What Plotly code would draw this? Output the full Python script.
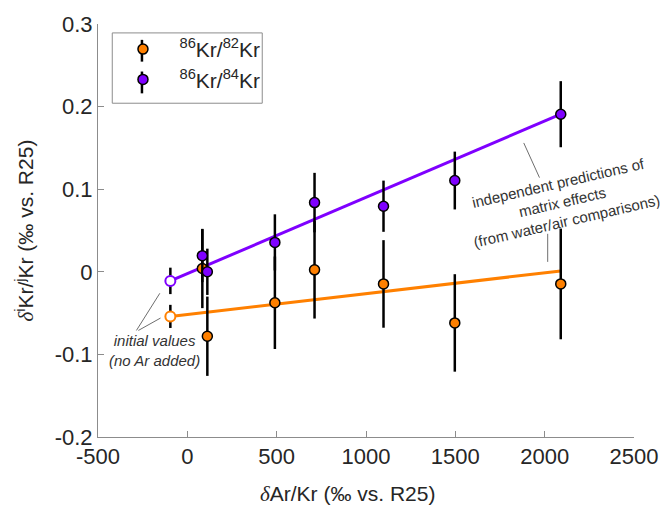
import plotly.graph_objects as go

# Ar/Kr enrichment of each sample (per mil vs. R25)
ar_kr = [84, 112, 490, 712, 1098, 1497, 2090]

# 86Kr/82Kr and 86Kr/84Kr deltas with 1-sigma uncertainties
kr86_82 = [0.004, -0.078, -0.0375, 0.0024, -0.0147, -0.0619, -0.0147]
kr86_82_err = [0.048, 0.048, 0.056, 0.059, 0.053, 0.059, 0.067]
kr86_84 = [0.0195, 0.000, 0.0356, 0.0838, 0.0794, 0.1105, 0.1908]
kr86_84_err = [0.032, 0.028, 0.034, 0.036, 0.031, 0.035, 0.040]

# initial values (no Ar added)
init_ar_kr = [-95]
init_86_82 = [-0.054]
init_86_82_err = [0.014]
init_86_84 = [-0.011]
init_86_84_err = [0.016]

# predicted matrix-effect lines (start, end)
pred_ar_kr = [-95, 2090]
pred_86_82 = [-0.054, 0.001]
pred_86_84 = [-0.011, 0.1908]

ORANGE = "#FF8000"
PURPLE = "#7F00FF"
FONT = "Liberation Sans, Arial, sans-serif"
TEXT = "#262626"
AXIS = "#8C8C8C"

fig = go.Figure()

# prediction lines
fig.add_trace(go.Scatter(x=pred_ar_kr, y=pred_86_82, mode="lines",
                         line=dict(color=ORANGE, width=3), showlegend=False))
fig.add_trace(go.Scatter(x=pred_ar_kr, y=pred_86_84, mode="lines",
                         line=dict(color=PURPLE, width=3), showlegend=False))

# initial values: open circles
fig.add_trace(go.Scatter(
    x=init_ar_kr, y=init_86_82, mode="markers", showlegend=False,
    error_y=dict(type="data", array=init_86_82_err, color="black", thickness=2.5, width=0),
    marker=dict(size=10, color="white", line=dict(color=ORANGE, width=2))))
fig.add_trace(go.Scatter(
    x=init_ar_kr, y=init_86_84, mode="markers", showlegend=False,
    error_y=dict(type="data", array=init_86_84_err, color="black", thickness=2.5, width=0),
    marker=dict(size=10, color="white", line=dict(color=PURPLE, width=2))))

# measured samples
fig.add_trace(go.Scatter(
    x=ar_kr, y=kr86_82, mode="markers", name="<sup>86</sup>Kr/<sup>82</sup>Kr",
    error_y=dict(type="data", array=kr86_82_err, color="black", thickness=2.5, width=0),
    marker=dict(size=10, color=ORANGE, line=dict(color="black", width=1.5))))
fig.add_trace(go.Scatter(
    x=ar_kr, y=kr86_84, mode="markers", name="<sup>86</sup>Kr/<sup>84</sup>Kr",
    error_y=dict(type="data", array=kr86_84_err, color="black", thickness=2.5, width=0),
    marker=dict(size=10, color=PURPLE, line=dict(color="black", width=1.5))))

# leader lines for the annotations
leader = dict(color="#6E6E6E", width=1)
fig.add_shape(type="line", x0=-154, y0=-0.026, x1=-285, y1=-0.071, line=leader)
fig.add_shape(type="line", x0=-150, y0=-0.056, x1=-274, y1=-0.071, line=leader)
fig.add_shape(type="line", x0=1883, y0=0.156, x1=1971, y1=0.114, line=leader)
fig.add_shape(type="line", x0=2017, y0=0.046, x1=2017, y1=0.012, line=leader)

# legend frame and error-bar strokes behind the legend symbols
fig.add_shape(type="rect", xref="paper", yref="paper",
              x0=(112.5 - 98) / 545, x1=(265 - 98) / 545,
              y0=1 - (100 - 20) / 417, y1=1 - (29 - 20) / 417,
              line=dict(color="#8C8C8C", width=1), fillcolor="rgba(0,0,0,0)")
legend_bar = dict(color="black", width=2.5)
fig.add_shape(type="line", xref="paper", yref="paper", x0=0.082, x1=0.082,
              y0=0.9616, y1=0.9089, line=legend_bar)
fig.add_shape(type="line", xref="paper", yref="paper", x0=0.082, x1=0.082,
              y0=0.8849, y1=0.8321, line=legend_bar)

fig.add_annotation(
    x=-186, y=-0.095, xref="x", yref="y", showarrow=False,
    text="<i>initial values<br>(no Ar added)</i>",
    font=dict(family=FONT, size=15, color="#333333"), align="center")
fig.add_annotation(
    x=2097, y=0.084, xref="x", yref="y", showarrow=False, textangle=-13,
    text="independent predictions of<br>matrix effects<br>(from water/air comparisons)",
    font=dict(family=FONT, size=15, color="#333333"), align="center")

# axis titles
fig.add_annotation(
    x=(352 - 98) / 545, y=-0.139, xref="paper", yref="paper", showarrow=False,
    xanchor="center", yanchor="middle",
    text="<span style=\"font-family:'Liberation Serif'\"><i>δ</i></span>Ar/Kr (‰ vs. R25)",
    font=dict(family=FONT, size=21, color=TEXT))
fig.add_annotation(
    x=-0.136, y=0.5, xref="paper", yref="paper", showarrow=False, textangle=-90,
    xanchor="center", yanchor="middle",
    text="<span style=\"font-family:'Liberation Serif'\"><i>δ</i></span><sup>i</sup>Kr/<sup>j</sup>Kr (‰ vs. R25)",
    font=dict(family=FONT, size=21, color=TEXT))

x_ticks = [-500, 0, 500, 1000, 1500, 2000, 2500]
y_ticks = [-0.2, -0.1, 0, 0.1, 0.2, 0.3]

fig.update_xaxes(
    range=[-500, 2500], tickvals=x_ticks, ticktext=[str(v) for v in x_ticks],
    showgrid=False, zeroline=False, showline=True, linecolor=AXIS, linewidth=1,
    ticks="inside", ticklen=6, tickcolor=AXIS, mirror=False,
    tickfont=dict(family=FONT, size=22, color=TEXT))
fig.update_yaxes(
    range=[-0.2, 0.3], tickvals=y_ticks, ticktext=["-0.2", "-0.1", "0", "0.1", "0.2", "0.3"],
    showgrid=False, zeroline=False, showline=True, linecolor=AXIS, linewidth=1,
    ticks="inside", ticklen=6, tickcolor=AXIS, mirror=False,
    tickfont=dict(family=FONT, size=22, color=TEXT))

fig.update_layout(
    width=670, height=506,
    margin=dict(l=98, r=27, t=20, b=69),
    paper_bgcolor="white", plot_bgcolor="white",
    legend=dict(x=0.027, y=0.988, xanchor="left", yanchor="top",
                borderwidth=0, bgcolor="rgba(0,0,0,0)",
                indentation=-6, itemwidth=63,
                font=dict(family=FONT, size=21, color=TEXT)),
    font=dict(family=FONT, color=TEXT))

fig.write_html("out.html")
